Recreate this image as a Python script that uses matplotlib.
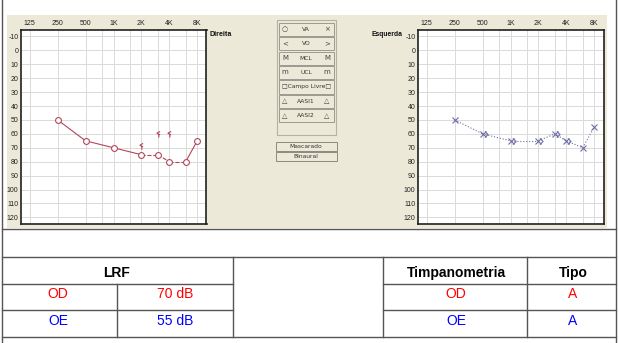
import matplotlib
matplotlib.use("Agg")
import matplotlib.pyplot as plt
from matplotlib.patches import Rectangle
from matplotlib.ticker import FixedLocator, NullFormatter
from matplotlib.path import Path
from matplotlib.transforms import ScaledTranslation

plt.rcParams['axes.unicode_minus'] = False

# ---------------- data ----------------
freqs = [250, 500, 1000, 2000, 3000, 4000, 6000, 8000]
od_ac = [50, 65, 70, 75, 75, 80, 80, 65]          # right ear (Direita), air
od_styles = ['-', '-', '-', '--', '--', '--', '-']
oe_ac = [50, 60, 65, 65, 60, 65, 70, 55]          # left ear (Esquerda), air
oe_styles = [':'] * 7
od_bc_freqs = [2000, 3000, 4000]
od_bc = [69, 60, 60]
oe_bc_freqs = [500, 1000, 2000, 3000, 4000]
oe_bc = [60, 65, 65, 60, 65]

tick_freqs = [125, 250, 500, 1000, 2000, 4000, 8000]
tick_labels = ['125', '250', '500', '1K', '2K', '4K', '8K']
half_octaves = [750, 1500, 3000, 6000]
db_ticks = list(range(-10, 121, 10))

buttons = [('○', 'VA', '×'), ('<', 'VO', '>'), ('M', 'MCL', 'M'),
           ('m', 'UCL', 'm'), ('', '□Campo Livre□', ''),
           ('△', 'AASI1', '△'), ('△', 'AASI2', '△')]

lrf_rows = [('OD', '70 dB', 'red'), ('OE', '55 dB', 'blue')]
timp_rows = [('OD', 'A', 'red'), ('OE', 'A', 'blue')]

W, H = 619, 343
BEIGE = '#ece9d8'
RED = '#b2475a'
BLUE = '#6f6fa6'

fig = plt.figure(figsize=(W / 100, H / 100), dpi=100)
bg = fig.add_axes([0, 0, 1, 1])
bg.set_xlim(0, W)
bg.set_ylim(H, 0)
bg.axis('off')

bg.add_patch(Rectangle((7, 15), 600, 213, fc=BEIGE, ec='none', zorder=0))

# bone conduction markers
bc_right = Path([(0.5, 1.0), (-0.5, 0.4), (0.5, -0.1), (0.1, 0.1), (0.1, -1.0)],
                [Path.MOVETO, Path.LINETO, Path.LINETO, Path.MOVETO, Path.LINETO])
bc_left = Path([(-0.5, 1.0), (0.5, 0.0), (-0.5, -1.0)],
               [Path.MOVETO, Path.LINETO, Path.LINETO])


def px_rect(x0, y0, x1, y1):
    return [x0 / W, 1 - y1 / H, (x1 - x0) / W, (y1 - y0) / H]


def audiogram(x0, x1, y0, y1, ac, styles, color, marker, bcf, bcv, bcmarker, bcshift):
    ax = fig.add_axes(px_rect(x0, y0, x1, y1))
    ax.set_xscale('log', base=2)
    ax.set_xlim(125 / 2 ** 0.33, 8000 * 2 ** 0.33)
    ax.set_ylim(125, -15)
    ax.xaxis.set_major_locator(FixedLocator(tick_freqs))
    ax.set_xticklabels(tick_labels)
    ax.xaxis.set_minor_locator(FixedLocator(half_octaves))
    ax.xaxis.set_minor_formatter(NullFormatter())
    ax.xaxis.tick_top()
    ax.set_yticks(db_ticks)
    ax.tick_params(which='both', length=0, labelsize=5, pad=1.5, colors='#222222')
    for lab in ax.get_xticklabels() + ax.get_yticklabels():
        lab.set_family('Liberation Sans')
    ax.grid(True, which='both', color='#dadada', lw=0.7)
    ax.set_axisbelow(True)
    for s in ax.spines.values():
        s.set_color('#202020')
        s.set_linewidth(1.2)
    for i in range(len(freqs) - 1):
        ax.plot(freqs[i:i + 2], ac[i:i + 2], color=color, lw=0.8, ls=styles[i], zorder=2)
    ax.plot(freqs, ac, ls='none', marker=marker, ms=4.2, mfc='white', mec=color,
            mew=0.8, zorder=3)
    off = ax.transData + ScaledTranslation(bcshift / 100, 0, fig.dpi_scale_trans)
    ax.plot(bcf, bcv, ls='none', marker=bcmarker, ms=4.5, mfc='none', mec=color,
            mew=0.8, zorder=4, transform=off)
    return ax


audiogram(20.5, 206.5, 29.5, 224.3, od_ac, od_styles, RED, 'o',
          od_bc_freqs, od_bc, bc_right, 0)
audiogram(417.5, 603.5, 29.5, 224.3, oe_ac, oe_styles, BLUE, 'x',
          oe_bc_freqs, oe_bc, bc_left, 3)

bg.text(209.5, 34.5, 'Direita', fontsize=5.1, fontweight='bold', family='Liberation Sans',
        ha='left', va='center', color='#111111')
bg.text(371, 34.5, 'Esquerda', fontsize=4.9, fontweight='bold', family='Liberation Sans',
        ha='left', va='center', color='#111111')

# button panel
bg.add_patch(Rectangle((276.5, 19.5), 59, 115, fc=BEIGE, ec='#b5b2a5', lw=0.8, zorder=1))
for i, (l, c, r) in enumerate(buttons):
    yc = 29.3 + i * 14.4
    bg.add_patch(Rectangle((278.5, yc - 6.6), 55, 13.2, fc=BEIGE, ec='#9c9a90', lw=0.7, zorder=2))
    bg.text(306, yc, c, fontsize=4.3, ha='center', va='center', color='#333333',
            family='DejaVu Sans', zorder=3)
    if l:
        bg.text(285, yc, l, fontsize=5, ha='center', va='center', color='#444444', zorder=3)
        bg.text(327, yc, r, fontsize=5, ha='center', va='center', color='#444444', zorder=3)
for j, name in enumerate(['Mascarado', 'Binaural']):
    y0 = 141.5 + j * 10.2
    bg.add_patch(Rectangle((275.5, y0), 61, 9.2, fc=BEIGE, ec='#8c8a80', lw=0.7, zorder=2))
    bg.text(306, y0 + 4.6, name, fontsize=4.3, ha='center', va='center', color='#333333', zorder=3)

# table
LC = '#555555'
LW = 1.0
for y in (229, 257, 337):
    bg.plot([2, 616], [y, y], color=LC, lw=LW)
for y in (284, 310):
    bg.plot([2, 233], [y, y], color=LC, lw=LW)
    bg.plot([383, 616], [y, y], color=LC, lw=LW)
bg.plot([2, 2], [0, 343], color=LC, lw=LW)
bg.plot([616, 616], [0, 343], color=LC, lw=LW)
bg.plot([117, 117], [284, 337], color=LC, lw=LW)
for x in (233, 383, 527):
    bg.plot([x, x], [257, 337], color=LC, lw=LW)

TF = dict(family='Liberation Sans', fontsize=10, ha='center', va='center')
bg.text(117, 273, 'LRF', fontweight='bold', color='black', **TF)
bg.text(456, 273, 'Timpanometria', fontweight='bold', color='black', **TF)
bg.text(573, 273, 'Tipo', fontweight='bold', color='black', **TF)
for k, (a, b, col) in enumerate(lrf_rows):
    y = 294 + k * 27
    bg.text(58, y, a, color=col, **TF)
    bg.text(175, y, b, color=col, **TF)
for k, (a, b, col) in enumerate(timp_rows):
    y = 294 + k * 27
    bg.text(456, y, a, color=col, **TF)
    bg.text(573, y, b, color=col, **TF)

fig.savefig('out.png', dpi=100)
